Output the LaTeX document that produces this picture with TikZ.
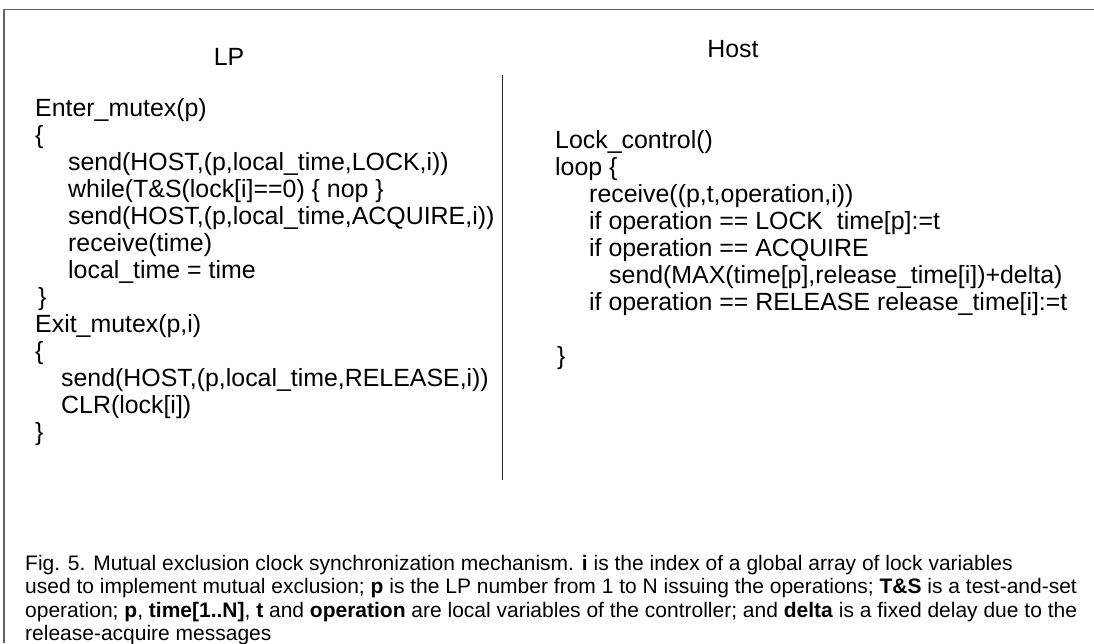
\documentclass[tikz,border=0pt]{standalone}
\usepackage{fontspec}
\setmainfont{Liberation Sans}
\begin{document}
\begin{tikzpicture}[x=1pt,y=-1pt,
  code/.style={anchor=base west, inner sep=0pt, font=\fontsize{24.9}{27}\selectfont, text=black},
  head/.style={anchor=base, inner sep=0pt, font=\fontsize{24.9}{27}\selectfont, text=black},
  captxt/.style={anchor=base west, inner sep=0pt, font=\fontsize{21}{23}\selectfont, text=black},
  frameline/.style={draw=black!62, line width=1.6pt},
  divider/.style={draw=black!85, line width=1.3pt}]
\clip (0,0) rectangle (1094,643);
\fill[white] (0,0) rectangle (1094,643);

% outer frame (top and left edges)
\draw[frameline] (1094,9.3) -- (4,9.3) -- (4,643);

% column separator
\draw[divider] (502.7,75) -- (502.7,480);

% column headings
\node[head] (lphead) at (229,65) {LP};
\node[head] (hosthead) at (733,57) {Host};

% LP side: Enter_mutex / Exit_mutex
\foreach \x/\y/\txt [count=\i] in {
  35/116/{Enter\_mutex(p)},
  35/143/{\{},
  68/170/{send(HOST,(p,local\_time,LOCK,i))},
  68/197/{while(T\&S(lock[i]==0) \{ nop \}},
  68/224/{send(HOST,(p,local\_time,ACQUIRE,i))},
  68/251/{receive(time)},
  68/278/{local\_time = time},
  38/305/{\}},
  35/332/{Exit\_mutex(p,i)},
  35/359/{\{},
  61/386/{send(HOST,(p,local\_time,RELEASE,i))},
  61/413/{CLR(lock[i])},
  35/440/{\}}}
  \node[code] (lp\i) at (\x,\y) {\txt};

% Host side: Lock_control
\foreach \x/\y/\txt [count=\i] in {
  555/148/{Lock\_control()},
  555/175/{loop \{},
  589/202/{receive((p,t,operation,i))},
  589/229/{if operation == LOCK\ \ time[p]:=t},
  589/256/{if operation == ACQUIRE},
  609/283/{send(MAX(time[p],release\_time[i])+delta)},
  589/310/{if operation == RELEASE release\_time[i]:=t},
  557/364/{\}}}
  \node[code] (host\i) at (\x,\y) {\txt};

% caption
\node[captxt] (cap1) at (25,570.5) {Fig. 5. Mutual exclusion clock synchronization mechanism. \textbf{i} is the index of a global array of lock variables};
\node[captxt] (cap2) at (25,593.8) {used to implement mutual exclusion; \textbf{p} is the LP number from 1 to N issuing the operations; \textbf{T\&S} is a test-and-set};
\node[captxt] (cap3) at (25,617.1) {operation; \textbf{p}, \textbf{time[1..N]}, \textbf{t} and \textbf{operation} are local variables of the controller; and \textbf{delta} is a fixed delay due to the};
\node[captxt] (cap4) at (25,640.4) {release-acquire messages};
\end{tikzpicture}
\end{document}
